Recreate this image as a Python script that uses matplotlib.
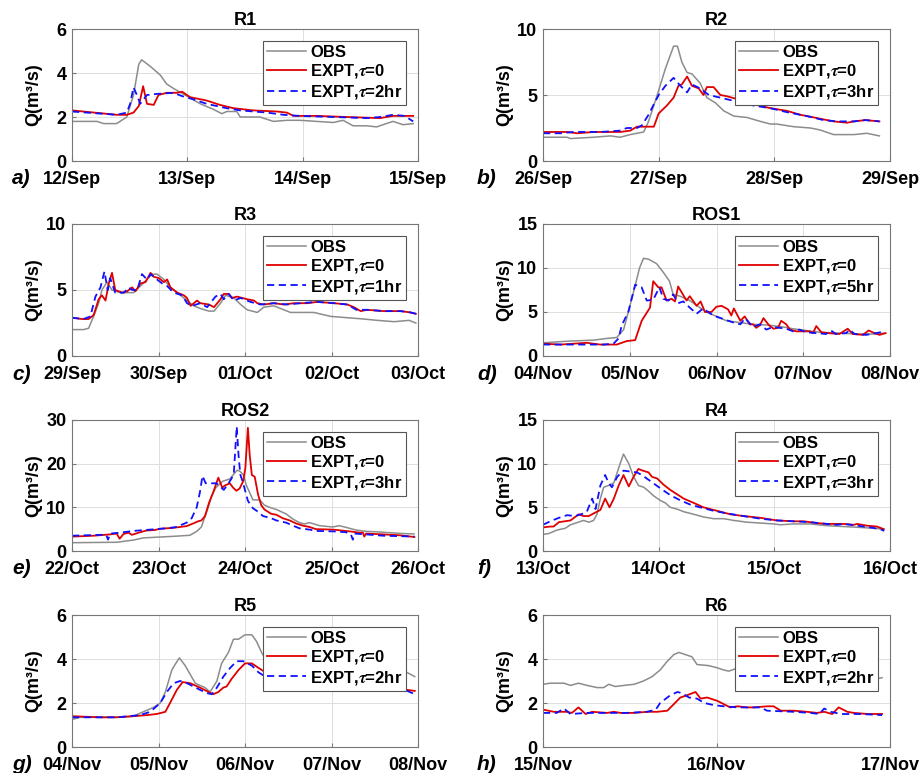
import matplotlib
matplotlib.use('Agg')
import matplotlib.pyplot as plt

plt.rcParams['font.family'] = 'Liberation Sans'
plt.rcParams['font.weight'] = 'bold'
plt.rcParams['mathtext.fontset'] = 'stix'

# --- datos (horas desde o início de cada painel, vazão em m3/s) ---

# a) R1
r1_obs_t = [0, 5.2, 6.6, 9.3, 11.4, 12.8, 13.9, 14.5, 16.3, 18.4, 19.7, 21.1, 23.5, 26.7, 29.4, 31.2, 32.2,
            34.3, 35.0, 36.4, 39.1, 41.9, 44.7, 47.4, 50.9, 54.4, 56.4, 58.5, 61.3, 63.4, 65.4, 66.8, 68.9, 71.0]
r1_obs_q = [1.8, 1.8, 1.7, 1.7, 2.0, 3.0, 4.4, 4.6, 4.3, 3.9, 3.5, 3.3, 3.0, 2.6, 2.35, 2.15, 2.25,
            2.25, 2.0, 2.0, 2.0, 1.8, 1.85, 1.85, 1.8, 1.75, 1.85, 1.6, 1.6, 1.55, 1.7, 1.8, 1.65, 1.7]
r1_e0_t = [0, 9.3, 11.4, 12.8, 13.9, 14.8, 15.6, 17.0, 18.0, 19.7, 21.8, 22.9, 24.6, 28.0, 30.8, 33.6,
           37.7, 42.6, 44.7, 46.1, 50.9, 57.1, 64.1, 66.8, 71.0]
r1_e0_q = [2.3, 2.1, 2.1, 2.2, 2.5, 3.4, 2.6, 2.55, 3.0, 3.1, 3.1, 3.15, 2.9, 2.75, 2.55, 2.4,
           2.3, 2.25, 2.2, 2.05, 2.05, 2.0, 1.95, 2.05, 2.05]
r1_tau_t = [0, 9.3, 11.4, 12.1, 12.8, 13.5, 14.2, 15.6, 17.7, 21.1, 22.9, 25.3, 28.0, 32.2, 35.0, 40.6,
            44.0, 47.4, 54.4, 61.3, 64.1, 66.8, 69.2, 71.0]
r1_tau_q = [2.25, 2.1, 2.2, 2.6, 3.35, 3.0, 2.6, 3.0, 3.05, 3.1, 2.95, 2.8, 2.6, 2.4, 2.3, 2.2,
            2.1, 2.05, 2.0, 1.95, 2.0, 2.1, 2.05, 1.8]

# b) R2
r2_obs_t = [0, 5.0, 5.7, 10.5, 14.0, 16.0, 18.1, 20.9, 21.9, 23.7, 25.4, 27.1, 27.9, 28.8, 29.9, 30.9,
            32.6, 34.0, 35.8, 37.5, 39.6, 42.3, 45.1, 47.2, 48.5, 52.0, 55.5, 57.5, 60.3, 64.5, 67.2, 69.8]
r2_obs_q = [1.8, 1.8, 1.7, 1.8, 1.9, 1.8, 2.0, 2.2, 3.0, 5.0, 7.0, 8.7, 8.7, 7.5, 6.7, 6.6,
            5.9, 4.8, 4.4, 3.8, 3.4, 3.3, 3.0, 2.8, 2.8, 2.6, 2.5, 2.35, 2.0, 2.0, 2.1, 1.9]
r2_e0_t = [0, 5.0, 7.1, 10.5, 16.0, 18.1, 19.5, 23.0, 24.0, 25.7, 27.1, 28.1, 28.8, 29.9, 30.9, 32.3,
           33.3, 34.0, 35.4, 36.8, 38.2, 40.2, 43.7, 47.2, 50.6, 53.4, 56.2, 58.9, 60.3, 63.1, 64.5, 66.9, 69.8]
r2_e0_q = [2.2, 2.2, 2.1, 2.2, 2.2, 2.3, 2.6, 2.6, 3.6, 4.2, 4.8, 5.7, 5.8, 6.4, 5.7, 5.5,
           5.0, 5.6, 5.6, 5.0, 4.9, 4.7, 4.3, 4.0, 3.8, 3.5, 3.3, 3.1, 3.0, 2.9, 3.0, 3.1, 3.0]
r2_tau_t = [0, 3.6, 6.4, 11.9, 16.0, 17.4, 19.5, 20.5, 21.9, 23.0, 24.0, 25.4, 27.1, 27.8, 28.5, 29.9,
            30.9, 32.6, 34.4, 36.8, 40.2, 43.7, 47.2, 50.6, 54.8, 58.2, 61.0, 64.5, 66.9, 69.8]
r2_tau_q = [2.1, 2.1, 2.2, 2.2, 2.3, 2.5, 2.5, 2.7, 3.5, 4.3, 5.0, 5.7, 6.3, 6.0, 5.7, 5.2,
            5.8, 5.5, 5.0, 4.8, 4.5, 4.2, 4.0, 3.7, 3.4, 3.1, 3.0, 3.0, 3.1, 3.0]

# c) R3
r3_obs_t = [0, 3.2, 4.6, 6.0, 7.4, 8.3, 9.7, 11.1, 13.4, 17.1, 19.0, 20.8, 22.2, 23.6, 25.5, 27.3, 30.1,
            31.9, 33.8, 35.6, 38.0, 39.4, 41.2, 42.6, 44.9, 46.8, 48.6, 51.4, 53.2, 56.0, 58.8, 60.6,
            63.4, 67.1, 71.8, 76.4, 81.0, 84.7, 89.4, 93.5, 95.4]
r3_obs_q = [2.0, 2.0, 2.1, 3.0, 4.0, 5.0, 5.6, 5.0, 4.8, 4.8, 5.3, 5.8, 6.2, 6.2, 5.8, 5.2, 4.6,
            4.2, 3.8, 3.6, 3.4, 3.4, 4.0, 4.6, 4.4, 3.9, 3.5, 3.3, 3.7, 3.8, 3.5, 3.3,
            3.3, 3.3, 3.0, 2.9, 2.8, 2.7, 2.6, 2.7, 2.5]
r3_e0_t = [0, 2.8, 4.6, 6.0, 7.4, 8.3, 9.3, 10.2, 11.1, 12.0, 13.9, 15.3, 16.7, 17.6, 19.0, 20.4, 21.8,
           22.7, 24.1, 25.5, 26.4, 27.3, 29.2, 31.0, 31.9, 32.9, 34.7, 35.6, 38.0, 39.4, 41.2, 42.1,
           43.5, 44.4, 45.8, 48.6, 50.5, 51.4, 53.2, 56.0, 58.8, 61.6, 65.3, 68.0, 72.7, 76.4, 78.2,
           80.1, 81.9, 86.5, 91.2, 93.9, 95.4]
r3_e0_q = [2.9, 2.8, 2.8, 3.1, 4.3, 4.6, 4.2, 5.5, 6.3, 5.0, 4.8, 4.9, 5.2, 4.9, 5.5, 5.6, 6.3,
           6.0, 5.9, 5.6, 5.8, 5.2, 4.8, 4.6, 4.4, 3.8, 4.2, 4.0, 3.9, 3.7, 4.3, 4.7,
           4.7, 4.4, 4.5, 4.3, 4.2, 4.0, 3.9, 4.0, 3.9, 4.0, 4.0, 4.1, 4.0, 3.9, 3.7,
           3.4, 3.5, 3.4, 3.4, 3.3, 3.2]
r3_tau_t = [0, 3.2, 5.1, 6.5, 7.9, 9.0, 9.9, 10.6, 12.0, 14.4, 15.7, 16.7, 18.1, 19.4, 20.8, 21.8, 23.1,
            25.0, 26.4, 28.2, 30.6, 31.9, 33.3, 35.6, 37.5, 39.8, 41.2, 42.1, 43.5, 44.9, 46.8, 49.5,
            52.3, 56.0, 59.7, 63.4, 68.0, 72.7, 76.4, 78.9, 81.9, 86.5, 91.2, 93.9, 95.4]
r3_tau_q = [2.9, 2.8, 3.0, 4.5, 5.2, 6.4, 5.0, 5.9, 4.8, 4.8, 5.2, 5.0, 5.0, 6.2, 5.8, 6.2, 5.9,
            5.5, 5.3, 4.8, 4.6, 4.0, 3.8, 4.0, 3.7, 4.5, 4.7, 4.3, 4.7, 4.2, 4.4, 4.1,
            3.9, 4.0, 3.9, 4.0, 4.1, 4.0, 3.9, 3.5, 3.5, 3.4, 3.4, 3.3, 3.2]

# d) ROS1
ros1_obs_t = [0, 7.5, 14.0, 17.7, 20.4, 22.3, 23.6, 25.5, 26.7, 27.8, 29.2, 31.4, 33.3, 35.0, 36.0, 37.9,
              40.6, 43.4, 45.2, 48.0, 50.8, 54.4, 58.1, 62.7, 66.4, 69.1, 72.8, 76.5, 82.0, 87.5, 91.2, 94.4]
ros1_obs_q = [1.5, 1.7, 1.8, 2.0, 2.1, 3.0, 5.0, 8.0, 10.0, 11.1, 11.0, 10.5, 9.5, 8.5, 7.0, 6.8,
              6.3, 5.5, 5.0, 4.5, 4.0, 3.8, 3.6, 3.5, 3.3, 3.1, 2.9, 2.7, 2.6, 2.5, 2.5, 2.6]
ros1_e0_t = [0, 4.8, 8.5, 12.1, 15.8, 20.4, 23.2, 25.5, 27.3, 29.6, 30.5, 31.9, 32.8, 34.2, 35.6, 36.5,
             37.4, 39.7, 40.6, 42.5, 43.6, 44.8, 46.6, 48.0, 49.4, 51.2, 52.1, 52.8, 54.6, 55.8, 57.2,
             58.1, 59.0, 60.0, 61.0, 62.5, 63.8, 65.0, 65.9, 67.3, 68.3, 70.1, 73.8, 74.7, 75.6, 77.0,
             78.8, 82.0, 84.3, 85.7, 88.5, 90.1, 91.7, 93.1, 94.8]
ros1_e0_q = [1.4, 1.3, 1.4, 1.5, 1.3, 1.3, 1.7, 1.8, 4.0, 5.5, 8.5, 7.8, 7.8, 6.3, 6.5, 6.2,
             7.9, 6.3, 6.8, 5.7, 6.2, 5.0, 5.0, 5.6, 5.7, 5.3, 4.6, 5.4, 4.0, 4.5, 3.6,
             3.6, 3.2, 3.5, 4.3, 3.5, 3.1, 3.2, 4.0, 3.6, 3.0, 2.8, 2.8, 2.6, 3.4, 2.7,
             2.6, 2.5, 3.1, 2.5, 2.4, 2.9, 2.6, 2.4, 2.6]
ros1_tau_t = [0, 16.7, 19.5, 20.9, 21.8, 23.6, 25.5, 27.3, 28.7, 30.5, 32.2, 33.3, 34.7, 36.0, 37.4, 38.8,
              40.6, 42.5, 44.3, 47.1, 49.9, 52.7, 54.6, 55.9, 58.1, 60.0, 61.8, 63.6, 67.3, 69.2, 71.0,
              72.8, 75.6, 78.3, 79.7, 81.0, 83.9, 84.8, 86.2, 89.4, 92.2, 94.5]
ros1_tau_q = [1.3, 1.3, 1.4, 2.0, 3.5, 5.0, 8.1, 7.8, 6.3, 6.4, 7.8, 6.5, 6.3, 7.0, 6.0, 6.2,
              5.5, 4.8, 5.4, 4.6, 4.2, 3.8, 3.6, 4.3, 3.3, 3.6, 3.0, 3.3, 3.1, 2.8, 3.0,
              2.7, 2.6, 2.5, 2.9, 2.5, 2.6, 3.0, 2.5, 2.4, 2.6, 2.8]

# e) ROS2
ros2_obs_t = [0, 12.4, 17.0, 19.8, 24.4, 29.0, 32.7, 34.6, 35.9, 37.8, 38.7, 39.9, 41.9, 43.8, 45.8, 46.5,
              47.5, 48.4, 49.5, 50.2, 52.1, 53.4, 54.8, 56.7, 59.4, 61.3, 63.1, 64.5, 65.9, 68.7, 72.3,
              74.2, 77.0, 78.8, 81.6, 84.3, 88.0, 91.7, 94.9]
ros2_obs_q = [1.9, 2.0, 2.5, 3.0, 3.2, 3.4, 3.6, 4.5, 5.5, 10.0, 12.5, 14.5, 16.0, 16.5, 18.5, 18.3,
              17.5, 15.0, 13.0, 11.7, 11.7, 10.5, 10.0, 9.5, 8.5, 7.3, 6.5, 6.2, 6.5, 5.8, 5.5,
              5.8, 5.2, 4.8, 4.5, 4.4, 4.2, 4.0, 3.9]
ros2_e0_t = [0, 6.0, 10.6, 12.4, 13.2, 14.3, 15.7, 16.6, 18.9, 20.7, 23.0, 24.4, 28.1, 31.8, 33.6, 35.0,
             35.9, 36.9, 38.0, 39.2, 40.6, 41.7, 42.4, 43.8, 44.7, 45.6, 46.5, 47.5, 48.1, 48.8, 49.3,
             49.9, 50.7, 51.6, 52.5, 53.4, 55.3, 56.7, 58.5, 60.4, 62.2, 64.1, 65.9, 67.7, 72.4, 77.0,
             79.8, 80.7, 81.1, 81.6, 86.3, 90.9, 95.0]
ros2_e0_q = [3.3, 3.5, 3.8, 4.0, 2.8, 3.9, 4.2, 3.7, 4.3, 4.7, 4.8, 5.1, 5.3, 5.7, 6.3, 6.8,
             7.0, 8.0, 11.0, 13.5, 16.8, 14.5, 15.0, 15.5, 14.5, 13.8, 14.3, 16.0, 19.0, 28.2, 22.0,
             17.4, 17.0, 13.0, 10.5, 9.5, 8.5, 8.3, 7.5, 7.0, 6.3, 5.8, 5.5, 5.0, 4.9, 4.5,
             4.2, 4.2, 3.3, 4.0, 3.8, 3.6, 3.2]
ros2_tau_t = [0, 7.8, 9.5, 10.0, 10.6, 13.4, 17.0, 21.7, 26.3, 29.0, 31.8, 33.2, 34.6, 35.5, 36.2, 37.1,
              40.1, 42.1, 43.0, 44.2, 44.9, 45.7, 46.2, 46.7, 47.5, 48.8, 50.2, 51.6, 53.0, 55.3, 56.7,
              59.4, 61.3, 63.1, 65.9, 67.7, 72.4, 76.0, 77.4, 77.9, 78.3, 81.6, 86.3, 90.9, 95.0]
ros2_tau_q = [3.5, 3.7, 3.7, 2.6, 4.0, 4.2, 4.6, 4.9, 5.2, 5.5, 6.5, 7.5, 10.0, 13.5, 17.2, 15.5,
              15.5, 14.0, 15.0, 16.5, 17.8, 28.5, 22.0, 17.5, 15.5, 11.5, 9.8, 9.0, 8.0, 7.5, 7.0,
              6.5, 5.8, 5.2, 4.9, 4.6, 4.5, 4.3, 3.8, 2.6, 4.0, 3.8, 3.5, 3.4, 3.3]

# f) R4
r4_obs_t = [0, 1.2, 2.9, 4.6, 5.7, 8.4, 9.5, 10.5, 11.2, 11.9, 12.6, 13.6, 14.7, 15.7, 16.7, 17.8, 18.8,
            19.8, 20.9, 21.6, 23.0, 24.3, 25.4, 26.4, 27.8, 29.2, 31.3, 33.3, 35.4, 37.5, 39.6, 42.3,
            45.1, 47.9, 49.2, 52.0, 55.5, 58.9, 62.4, 65.8, 68.6, 70.7]
r4_obs_q = [1.9, 2.0, 2.4, 2.6, 3.0, 3.5, 3.3, 3.5, 4.2, 6.0, 7.3, 7.5, 7.8, 9.5, 11.1, 10.0, 8.5,
            7.5, 7.3, 7.0, 6.3, 5.8, 5.5, 5.0, 4.8, 4.5, 4.2, 3.9, 3.7, 3.7, 3.5, 3.3,
            3.2, 3.1, 3.0, 3.1, 3.1, 2.9, 2.8, 2.7, 2.6, 2.5]
r4_e0_t = [0, 1.5, 2.2, 3.3, 5.7, 7.4, 8.4, 9.5, 10.5, 11.9, 12.9, 13.8, 14.7, 15.7, 16.7, 17.8, 18.8,
           19.8, 20.7, 21.9, 22.6, 23.7, 25.0, 26.4, 27.8, 29.2, 31.3, 33.3, 35.4, 36.8, 38.9, 41.6,
           45.1, 48.5, 52.0, 54.1, 56.8, 58.9, 62.4, 64.5, 65.2, 67.2, 69.3, 70.7]
r4_e0_q = [2.7, 2.8, 2.8, 3.3, 3.5, 4.2, 4.0, 4.0, 4.3, 4.7, 6.0, 5.0, 6.0, 7.5, 8.7, 7.4, 8.5,
           9.4, 9.2, 9.0, 8.5, 8.3, 7.6, 7.0, 6.5, 6.0, 5.5, 5.0, 4.7, 4.5, 4.2, 4.0,
           3.8, 3.5, 3.4, 3.4, 3.2, 3.1, 3.1, 3.0, 3.1, 2.9, 2.8, 2.5]
r4_tau_t = [0, 1.5, 3.3, 5.0, 6.7, 8.4, 9.1, 10.2, 10.9, 11.9, 12.9, 13.6, 14.3, 15.4, 16.7, 18.1, 19.5,
            20.5, 22.3, 24.3, 26.4, 28.5, 30.6, 32.6, 35.4, 38.2, 41.6, 45.1, 48.5, 52.0, 55.5, 58.9,
            61.0, 62.4, 65.2, 67.9, 70.0, 70.8]
r4_tau_q = [3.0, 3.4, 3.8, 4.1, 4.0, 4.3, 4.5, 6.0, 4.8, 7.5, 8.7, 7.8, 7.3, 8.5, 9.2, 9.1, 9.0,
            8.7, 8.0, 7.2, 6.4, 5.8, 5.3, 5.0, 4.6, 4.3, 4.0, 3.7, 3.5, 3.4, 3.3, 3.1,
            3.0, 3.1, 2.9, 2.7, 2.5, 2.3]

# g) R5
r5_obs_t = [0, 2.3, 12.5, 17.0, 19.8, 22.6, 24.5, 25.9, 27.7, 28.6, 29.8, 31.4, 32.8, 34.2, 35.5, 36.9,
            38.3, 40.2, 41.5, 43.4, 44.8, 46.2, 48.0, 49.9, 51.2, 52.6, 54.0, 55.8, 63.2, 72.3, 81.5,
            90.5, 92.8, 95.1]
r5_obs_q = [1.25, 1.35, 1.35, 1.4, 1.6, 1.8, 2.0, 2.5, 3.5, 3.75, 4.05, 3.7, 3.3, 2.9, 2.8, 2.7,
            2.5, 3.0, 3.8, 4.3, 4.9, 4.9, 5.1, 5.1, 4.8, 4.3, 3.9, 3.7, 3.6, 3.5, 3.5,
            3.4, 3.4, 3.2]
r5_e0_t = [0, 7.8, 12.5, 17.0, 20.8, 23.5, 25.9, 27.2, 29.1, 30.7, 32.8, 35.5, 37.9, 39.2, 40.6, 42.0,
           42.9, 44.3, 46.2, 48.0, 49.9, 51.7, 53.6, 55.8, 63.2, 72.3, 81.5, 90.0, 92.8, 95.1]
r5_e0_q = [1.4, 1.35, 1.35, 1.4, 1.45, 1.5, 1.6, 2.0, 2.6, 2.95, 2.9, 2.7, 2.5, 2.4, 2.5, 2.7,
           2.75, 3.1, 3.5, 3.8, 3.8, 3.6, 3.4, 3.2, 3.0, 2.85, 2.75, 2.7, 2.6, 2.55]
r5_tau_t = [0, 12.5, 18.9, 21.7, 24.5, 26.3, 28.2, 30.0, 31.9, 35.5, 37.4, 38.8, 40.2, 42.0, 43.9, 45.7,
            47.5, 49.9, 51.7, 53.6, 55.8, 63.2, 72.3, 81.5, 90.0, 92.3, 95.1]
r5_tau_q = [1.35, 1.35, 1.45, 1.6, 2.0, 2.5, 2.9, 3.0, 2.9, 2.6, 2.45, 2.4, 2.7, 3.2, 3.6, 3.9,
            3.9, 3.7, 3.4, 3.2, 3.0, 2.85, 2.75, 2.72, 2.7, 2.6, 2.4]

# h) R6
r6_obs_t = [0, 1.0, 2.9, 3.8, 4.9, 6.1, 7.5, 8.4, 9.1, 10.0, 11.2, 12.6, 13.9, 15.1, 16.2, 17.2, 18.1,
            18.8, 19.7, 20.6, 21.3, 22.9, 24.1, 25.0, 25.7, 26.6, 30.0, 34.5, 39.2, 43.8, 46.2, 46.9]
r6_obs_q = [2.85, 2.9, 2.9, 2.8, 2.9, 2.8, 2.7, 2.7, 2.85, 2.75, 2.8, 2.85, 3.0, 3.2, 3.5, 3.9, 4.2,
            4.3, 4.2, 4.1, 3.75, 3.7, 3.6, 3.5, 3.45, 3.55, 3.5, 3.4, 3.3, 3.2, 3.1, 3.15]
r6_e0_t = [0, 1.5, 3.3, 4.0, 4.9, 5.9, 6.8, 8.9, 9.8, 10.7, 12.6, 14.4, 15.8, 17.2, 19.0, 19.9, 21.1,
           21.8, 22.7, 24.1, 25.0, 25.9, 26.9, 28.2, 29.2, 31.0, 31.9, 32.9, 34.7, 36.5, 37.9, 38.9,
           40.0, 40.9, 42.1, 43.0, 44.9, 46.9]
r6_e0_q = [1.7, 1.6, 1.6, 1.55, 1.8, 1.5, 1.6, 1.55, 1.6, 1.55, 1.55, 1.6, 1.6, 1.65, 2.25, 2.35, 2.5,
           2.2, 2.25, 2.1, 1.95, 1.8, 1.85, 1.8, 1.8, 1.85, 1.85, 1.65, 1.65, 1.6, 1.55, 1.6,
           1.5, 1.8, 1.6, 1.55, 1.5, 1.5]
r6_tau_t = [0, 1.9, 2.9, 3.8, 6.1, 11.6, 14.4, 15.6, 16.2, 17.6, 18.6, 19.2, 20.2, 21.3, 22.3, 23.7,
            25.0, 26.9, 30.1, 31.0, 34.7, 37.0, 38.2, 38.9, 39.8, 41.2, 43.9, 46.9]
r6_tau_q = [1.55, 1.55, 1.75, 1.5, 1.55, 1.55, 1.6, 1.7, 2.0, 2.35, 2.5, 2.45, 2.25, 2.2, 2.0, 1.9,
            1.85, 1.8, 1.8, 1.65, 1.6, 1.55, 1.5, 1.75, 1.6, 1.5, 1.5, 1.45]

titles = ['R1', 'R2', 'R3', 'ROS1', 'ROS2', 'R4', 'R5', 'R6']
letters = ['a)', 'b)', 'c)', 'd)', 'e)', 'f)', 'g)', 'h)']
taus = ['2hr', '3hr', '1hr', '5hr', '3hr', '3hr', '2hr', '2hr']
day_labels = [
    ['12/Sep', '13/Sep', '14/Sep', '15/Sep'],
    ['26/Sep', '27/Sep', '28/Sep', '29/Sep'],
    ['29/Sep', '30/Sep', '01/Oct', '02/Oct', '03/Oct'],
    ['04/Nov', '05/Nov', '06/Nov', '07/Nov', '08/Nov'],
    ['22/Oct', '23/Oct', '24/Oct', '25/Oct', '26/Oct'],
    ['13/Oct', '14/Oct', '15/Oct', '16/Oct'],
    ['04/Nov', '05/Nov', '06/Nov', '07/Nov', '08/Nov'],
    ['15/Nov', '16/Nov', '17/Nov'],
]
ymax = [6, 10, 10, 15, 30, 15, 6, 6]
ystep = [2, 5, 5, 5, 10, 5, 2, 2]

series = [
    (r1_obs_t, r1_obs_q, r1_e0_t, r1_e0_q, r1_tau_t, r1_tau_q),
    (r2_obs_t, r2_obs_q, r2_e0_t, r2_e0_q, r2_tau_t, r2_tau_q),
    (r3_obs_t, r3_obs_q, r3_e0_t, r3_e0_q, r3_tau_t, r3_tau_q),
    (ros1_obs_t, ros1_obs_q, ros1_e0_t, ros1_e0_q, ros1_tau_t, ros1_tau_q),
    (ros2_obs_t, ros2_obs_q, ros2_e0_t, ros2_e0_q, ros2_tau_t, ros2_tau_q),
    (r4_obs_t, r4_obs_q, r4_e0_t, r4_e0_q, r4_tau_t, r4_tau_q),
    (r5_obs_t, r5_obs_q, r5_e0_t, r5_e0_q, r5_tau_t, r5_tau_q),
    (r6_obs_t, r6_obs_q, r6_e0_t, r6_e0_q, r6_tau_t, r6_tau_q),
]

# --- layout em pixels (figura 919x773) ---
W, H = 919, 773
cols_px = [(72, 418), (543, 890)]
rows_px = [(29, 161), (224, 356), (420, 551), (615, 747)]
letter_x = [12, 477]

fig = plt.figure(figsize=(W / 100, H / 100), dpi=100)

for i in range(8):
    x0, x1 = cols_px[i % 2]
    y0, y1 = rows_px[i // 2]
    ax = fig.add_axes([x0 / W, 1 - y1 / H, (x1 - x0) / W, (y1 - y0) / H])

    ot, oq, et, eq, tt, tq = series[i]
    ax.plot(ot, oq, color='#8c8c8c', lw=1.1, label='OBS')
    ax.plot(et, eq, color='#e00000', lw=1.3, label=r'EXPT,$\tau$=0')
    ax.plot(tt, tq, color='#1010ff', lw=1.3, ls=(0, (4, 2.5)), label=r'EXPT,$\tau$=' + taus[i])

    ndays = len(day_labels[i]) - 1
    ax.set_xlim(0, 24 * ndays)
    ax.set_xticks([24 * d for d in range(ndays + 1)])
    ax.set_xticklabels(day_labels[i])
    ax.set_ylim(0, ymax[i])
    ax.set_yticks(list(range(0, ymax[i] + 1, ystep[i])))

    ax.grid(True, color='#dedede', lw=0.7)
    ax.set_axisbelow(True)
    for s in ax.spines.values():
        s.set_color('#777777')
        s.set_linewidth(0.8)
    ax.tick_params(direction='in', length=3, color='#777777', labelsize=13)
    ax.tick_params(axis='x', pad=7)
    ax.tick_params(axis='y', pad=4)

    ax.set_title(titles[i], fontsize=13, fontweight='bold', pad=3)
    ax.set_ylabel('Q(m³/s)', fontsize=13, fontweight='bold')
    ax.yaxis.set_label_coords(-0.085, 0.5)

    leg = ax.legend(loc='upper right', fontsize=12, frameon=True, fancybox=False,
                    framealpha=1, edgecolor='#555555', handlelength=2.3, handletextpad=0.25,
                    labelspacing=0.15, borderpad=0.25, borderaxespad=0.7)
    leg.get_frame().set_linewidth(0.8)
    leg.set_zorder(10)

    # rótulo do painel
    fig.text(letter_x[i % 2] / W, 1 - (y1 + 18) / H, letters[i], fontsize=15, fontweight='bold',
             fontstyle='italic', va='center', ha='left')

fig.savefig('out.png', dpi=100)
